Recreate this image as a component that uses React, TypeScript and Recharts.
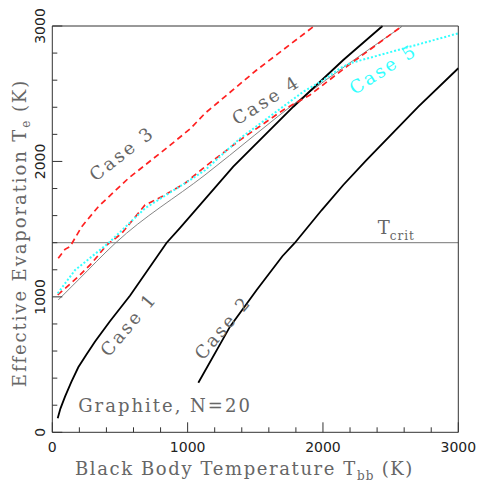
import React from 'react';
import { LineChart, Line, XAxis, YAxis, ReferenceLine, ReferenceDot } from 'recharts';

// Case 1 (black solid)
const case1Tbb = [40, 60, 94, 140, 192, 250, 316, 426, 575, 845, 944, 1337, 1781, 2150, 2440];
const case1Te = [103, 175, 263, 370, 480, 570, 670, 820, 1010, 1400, 1510, 1961, 2404, 2749, 3000];
// Case 2 (black solid)
const case2Tbb = [1079, 1313, 1510, 1700, 1790, 1991, 2150, 2323, 2705, 3000];
const case2Te = [366, 780, 1051, 1300, 1396, 1641, 1826, 2011, 2404, 2688];
// Case 3 (red dashed, upper)
const case3Tbb = [44, 94, 131, 217, 340, 562, 857, 1018, 1128, 1510, 1929];
const case3Te = [1285, 1351, 1371, 1518, 1666, 1875, 2109, 2240, 2355, 2675, 2995];
// Case 4 (red dashed, lower)
const case4Tbb = [40, 192, 291, 402, 513, 685, 808, 981, 1128, 1387, 1707, 1904, 2175, 2585];
const case4Te = [1014, 1149, 1248, 1383, 1469, 1678, 1740, 1839, 1961, 2158, 2380, 2491, 2700, 3000];
// Case 5 (cyan dotted)
const case5Tbb = [40, 168, 414, 685, 1018, 1128, 1387, 1855, 2003, 2126, 2200, 3000];
const case5Te = [1026, 1198, 1396, 1654, 1863, 1935, 2170, 2515, 2601, 2688, 2725, 2946];
// thin grey reference curve
const greyTbb = [44, 192, 465, 1128, 1855, 2582];
const greyTe = [977, 1125, 1396, 1900, 2478, 2995];

const tCrit = 1400;
const axisTicks = [0, 200, 400, 600, 800, 1000, 1200, 1400, 1600, 1800, 2000, 2200, 2400, 2600, 2800, 3000];
const majorTicks = [0, 1000, 2000, 3000];

const annotations = [
  { text: 'Case 1', x: 562, y: 798, angle: -50, color: '#666' },
  { text: 'Case 2', x: 1258, y: 774, angle: -50, color: '#666' },
  { text: 'Case 3', x: 513, y: 2060, angle: -38, color: '#666' },
  { text: 'Case 4', x: 1579, y: 2454, angle: -32, color: '#666' },
  { text: 'Case 5', x: 2444, y: 2683, angle: -33, color: '#33ffff' },
];

const zip = (xs: number[], ys: number[]) => xs.map((x, i) => ({ x, y: ys[i] }));

const serif = "'DejaVu Serif', serif";
const sans = "'DejaVu Sans', sans-serif";
const frame = '#333';
const textGrey = '#666';

const isMajor = (v: number) => majorTicks.indexOf(v) >= 0;

const BottomTick = (p: any) => {
  const v = p.payload.value;
  const len = isMajor(v) ? 10 : 5;
  return (
    <g>
      <line x1={p.x} y1={p.y} x2={p.x} y2={p.y - len} stroke={frame} strokeWidth={1} />
      {isMajor(v) && (
        <text x={p.x} y={p.y + 20} textAnchor="middle" fontFamily={sans} fontSize={14} fill="#222">
          {v}
        </text>
      )}
    </g>
  );
};
const TopTick = (p: any) => {
  const v = p.payload.value;
  const len = isMajor(v) ? 10 : 5;
  return <line x1={p.x} y1={p.y} x2={p.x} y2={p.y + len} stroke={frame} strokeWidth={1} />;
};
const LeftTick = (p: any) => {
  const v = p.payload.value;
  const len = isMajor(v) ? 10 : 5;
  const tx = p.x - 7;
  return (
    <g>
      <line x1={p.x} y1={p.y} x2={p.x + len} y2={p.y} stroke={frame} strokeWidth={1} />
      {isMajor(v) && (
        <text x={tx} y={p.y} transform={`rotate(-90, ${tx}, ${p.y})`} textAnchor="middle" fontFamily={sans} fontSize={14} fill="#222">
          {v}
        </text>
      )}
    </g>
  );
};
const RightTick = (p: any) => {
  const v = p.payload.value;
  const len = isMajor(v) ? 10 : 5;
  return <line x1={p.x} y1={p.y} x2={p.x - len} y2={p.y} stroke={frame} strokeWidth={1} />;
};

const XTitle = () => (
  <text x={244.5} y={475} textAnchor="middle" fontFamily={serif} fontSize={18} letterSpacing={1.6} fill={textGrey}>
    <tspan>Black Body Temperature T</tspan>
    <tspan fontSize={12} letterSpacing={1} dy={5}>bb</tspan>
    <tspan dy={-5}> (K)</tspan>
  </text>
);
const YTitle = () => (
  <text x={26} y={233} transform="rotate(-90, 26, 233)" textAnchor="middle" fontFamily={serif} fontSize={18} letterSpacing={1.9} fill={textGrey}>
    <tspan>Effective Evaporation T</tspan>
    <tspan fontSize={12} letterSpacing={1} dy={4}>e</tspan>
    <tspan dy={-4}> (K)</tspan>
  </text>
);

export default function App() {
  return (
    <div style={{ position: 'absolute', left: 0, top: 0, background: '#fff' }}>
      <LineChart width={485} height={485} margin={{ top: 25, right: 25.7, bottom: 51.7, left: 51.3 }}>
        <XAxis xAxisId="b" type="number" dataKey="x" domain={[0, 3000]} ticks={axisTicks} interval={0}
          tickSize={0} tickMargin={0} height={1} axisLine={{ stroke: frame }} tickLine={false} tick={BottomTick}
          label={{ content: () => <XTitle /> }} />
        <XAxis xAxisId="t" orientation="top" type="number" dataKey="x" domain={[0, 3000]} ticks={axisTicks} interval={0}
          tickSize={0} tickMargin={0} height={1} axisLine={{ stroke: frame }} tickLine={false} tick={TopTick} />
        <YAxis yAxisId="l" type="number" domain={[0, 3000]} ticks={axisTicks} interval={0}
          tickSize={0} tickMargin={0} width={1} axisLine={{ stroke: frame }} tickLine={false} tick={LeftTick}
          label={{ content: () => <YTitle /> }} />
        <YAxis yAxisId="r" orientation="right" type="number" domain={[0, 3000]} ticks={axisTicks} interval={0}
          tickSize={0} tickMargin={0} width={1} axisLine={{ stroke: frame }} tickLine={false} tick={RightTick} />

        <ReferenceLine xAxisId="b" yAxisId="l" y={tCrit} stroke="#777" strokeWidth={1} />

        <Line xAxisId="b" yAxisId="l" data={zip(greyTbb, greyTe)} dataKey="y" type="monotone" stroke="#777" strokeWidth={0.9} dot={false} isAnimationActive={false} />
        <Line xAxisId="b" yAxisId="l" data={zip(case1Tbb, case1Te)} dataKey="y" type="linear" stroke="#000" strokeWidth={1.8} dot={false} isAnimationActive={false} />
        <Line xAxisId="b" yAxisId="l" data={zip(case2Tbb, case2Te)} dataKey="y" type="linear" stroke="#000" strokeWidth={1.8} dot={false} isAnimationActive={false} />
        <Line xAxisId="b" yAxisId="l" data={zip(case4Tbb, case4Te)} dataKey="y" type="linear" stroke="#ff2020" strokeWidth={1.7} strokeDasharray="6 4" dot={false} isAnimationActive={false} />
        <Line xAxisId="b" yAxisId="l" data={zip(case5Tbb, case5Te)} dataKey="y" type="linear" stroke="#33ffff" strokeWidth={2} strokeDasharray="2 2" dot={false} isAnimationActive={false} />
        <Line xAxisId="b" yAxisId="l" data={zip(case3Tbb, case3Te)} dataKey="y" type="linear" stroke="#ff2020" strokeWidth={1.7} strokeDasharray="6 4" dot={false} isAnimationActive={false} />

        {annotations.map((a) => (
          <ReferenceDot key={a.text} xAxisId="b" yAxisId="l" x={a.x} y={a.y} r={0}
            shape={(p: any) => (
              <text x={p.cx} y={p.cy} transform={`rotate(${a.angle}, ${p.cx}, ${p.cy})`} textAnchor="middle"
                dominantBaseline="central" fontFamily={serif} fontSize={18} letterSpacing={2.5} fill={a.color}>
                {a.text}
              </text>
            )} />
        ))}
        <ReferenceDot xAxisId="b" yAxisId="l" x={2420} y={tCrit} r={0}
          shape={(p: any) => (
            <text x={p.cx - 2} y={p.cy - 9} fontFamily={serif} fontSize={18} fill={textGrey}>
              <tspan>T</tspan>
              <tspan fontSize={12} dy={6} letterSpacing={1}>crit</tspan>
            </text>
          )} />
        <ReferenceDot xAxisId="b" yAxisId="l" x={833} y={200} r={0}
          shape={(p: any) => (
            <text x={p.cx} y={p.cy} textAnchor="middle" dominantBaseline="central" fontFamily={serif} fontSize={18} letterSpacing={2} fill={textGrey}>
              Graphite, N=20
            </text>
          )} />
      </LineChart>
    </div>
  );
}
